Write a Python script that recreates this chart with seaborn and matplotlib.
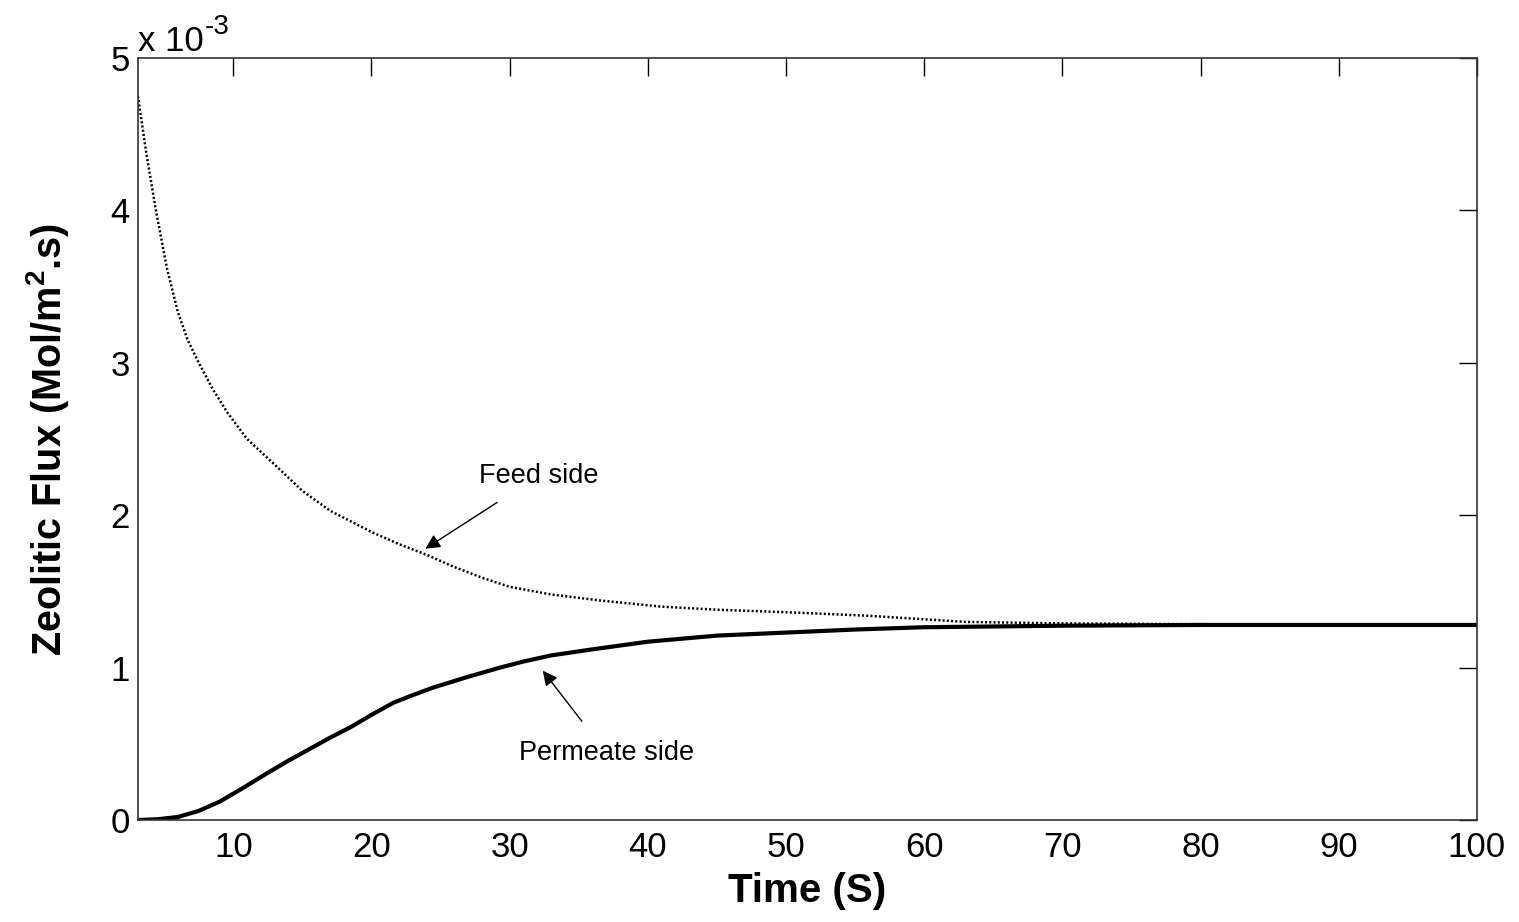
import matplotlib
matplotlib.use("Agg")
import matplotlib.pyplot as plt
import seaborn as sns
import pandas as pd

# ---- data (flux in units of 1e-3 Mol/m^2.s) ----
feed_time = [3.1, 3.7, 4.4, 5.2, 6.0, 6.7, 7.5, 8.5, 9.6, 11.0, 12.9, 15.0, 17.0,
             20.0, 22.0, 24.0, 26.0, 28.0, 30.0, 33.0, 36.6, 41.0, 45.0, 51.0,
             56.0, 63.0, 70.0, 80.0, 90.0, 100.0]
feed_flux = [4.75, 4.38, 4.00, 3.62, 3.33, 3.15, 3.00, 2.83, 2.67, 2.50, 2.34, 2.16, 2.03,
             1.89, 1.81, 1.74, 1.66, 1.59, 1.53, 1.48, 1.44, 1.40, 1.38, 1.36,
             1.34, 1.30, 1.29, 1.285, 1.28, 1.28]

perm_time = [3.1, 4.5, 6.0, 7.5, 9.0, 10.7, 12.5, 14.0, 15.4, 17.0, 18.5, 20.0, 21.6,
             23.0, 24.5, 27.0, 29.3, 31.0, 33.0, 36.0, 40.0, 45.0, 50.0, 55.0, 60.0,
             70.0, 80.0, 90.0, 100.0]
perm_flux = [0.0, 0.005, 0.02, 0.06, 0.12, 0.21, 0.31, 0.39, 0.46, 0.54, 0.61, 0.69, 0.77,
             0.82, 0.87, 0.94, 1.00, 1.04, 1.08, 1.12, 1.17, 1.21, 1.23, 1.25, 1.265,
             1.275, 1.28, 1.28, 1.28]

x_ticks = [10, 20, 30, 40, 50, 60, 70, 80, 90, 100]
y_ticks = [0, 1, 2, 3, 4, 5]
scale_base = "x 10"
scale_exp = "-3"
x_label = "Time (S)"
y_label = r"Zeolitic Flux (Mol/m$^{\mathbf{2}}$.s)"
feed_label = "Feed side"
perm_label = "Permeate side"

sns.set_theme(style="white")
plt.rcParams["font.family"] = ["Liberation Sans", "DejaVu Sans"]
plt.rcParams["mathtext.fontset"] = "custom"
plt.rcParams["mathtext.rm"] = "Liberation Sans"
plt.rcParams["mathtext.it"] = "Liberation Sans:italic"
plt.rcParams["mathtext.bf"] = "Liberation Sans:bold"
for k in ["text.color", "axes.labelcolor", "xtick.color", "ytick.color"]:
    plt.rcParams[k] = "black"

feed_df = pd.DataFrame({"t": feed_time, "f": feed_flux})
perm_df = pd.DataFrame({"t": perm_time, "f": perm_flux})

fig = plt.figure(figsize=(15.19, 9.22), dpi=100)
ax = fig.add_axes([0.0908, 0.1106, 0.9723 - 0.0908, 0.9371 - 0.1106])

sns.lineplot(data=perm_df, x="t", y="f", ax=ax, color="black", linewidth=3.0,
             estimator=None, sort=False)
sns.lineplot(data=feed_df, x="t", y="f", ax=ax, color="black", linewidth=1.8,
             linestyle=(0, (0.8, 0.9)), estimator=None, sort=False)

ax.set_xlim(3.1, 100)
ax.set_ylim(0, 5)
ax.set_xticks(x_ticks)
ax.set_yticks(y_ticks)
ax.set_xticklabels([str(v) for v in x_ticks])
ax.set_yticklabels([str(v) for v in y_ticks])
ax.tick_params(direction="in", top=True, right=True, length=13, width=1,
               labelsize=25, color="black")
ax.tick_params(axis="x", pad=8)
ax.tick_params(axis="y", pad=6)
for s in ax.spines.values():
    s.set_color("#333333")
    s.set_linewidth(1.2)

ax.set_xlabel(x_label, fontsize=29, fontweight="bold", labelpad=6)
ax.set_ylabel(y_label, fontsize=28.5, fontweight="bold", labelpad=28)

ax.text(0.0, 1.0, scale_base, transform=ax.transAxes, fontsize=25,
        ha="left", va="bottom")
ax.annotate(scale_exp, xy=(0.0, 1.0), xycoords="axes fraction",
            xytext=(67, 18), textcoords="offset pixels", fontsize=20,
            ha="left", va="bottom")

ax.annotate(feed_label, xy=(23.9, 1.78), xytext=(32.1, 2.26), fontsize=19.5,
            ha="center", va="center",
            arrowprops=dict(arrowstyle="-|>", color="black", lw=1.0,
                            mutation_scale=22, shrinkA=14, shrinkB=0))
ax.annotate(perm_label, xy=(32.4, 0.98), xytext=(37.0, 0.44), fontsize=19.5,
            ha="center", va="center",
            arrowprops=dict(arrowstyle="-|>", color="black", lw=1.0,
                            mutation_scale=22, shrinkA=14, shrinkB=0))

fig.savefig("out.png", dpi=100, facecolor="white")
